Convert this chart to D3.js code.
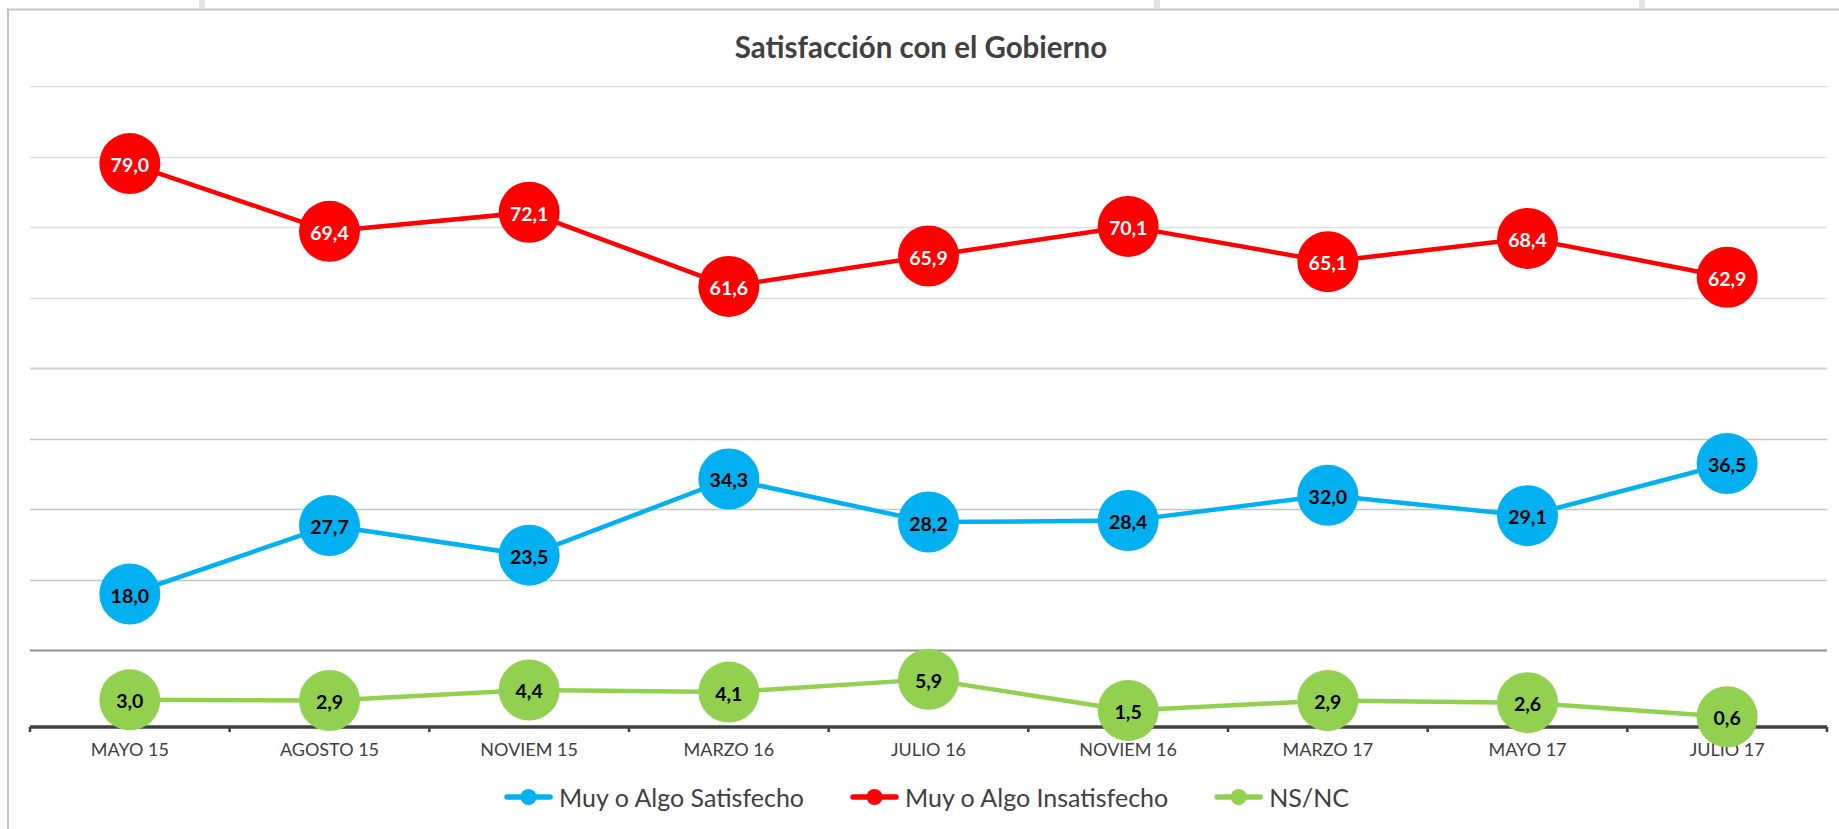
<!DOCTYPE html>
<html>
<head>
<meta charset="utf-8">
<script src="https://cdn.jsdelivr.net/npm/d3@7"></script>
<style>
  body { margin: 0; background: #fff; }
  svg { display: block; font-family: Lato, "Open Sans", sans-serif; }
</style>
</head>
<body>
<div id="chart"></div>
<script>
// chart data
const categories = ["MAYO 15", "AGOSTO 15", "NOVIEM 15", "MARZO 16", "JULIO 16", "NOVIEM 16", "MARZO 17", "MAYO 17", "JULIO 17"];
const satisfecho = [18.0, 27.7, 23.5, 34.3, 28.2, 28.4, 32.0, 29.1, 36.5];
const insatisfecho = [79.0, 69.4, 72.1, 61.6, 65.9, 70.1, 65.1, 68.4, 62.9];
const nsnc = [3.0, 2.9, 4.4, 4.1, 5.9, 1.5, 2.9, 2.6, 0.6];
const seriesNames = ["Muy o Algo Satisfecho", "Muy o Algo Insatisfecho", "NS/NC"];
const gridValues = [10, 20, 30, 40, 50, 60, 70, 80, 90];
const yDomain = [-0.85, 90];
const title = "Satisfacción con el Gobierno";

document.addEventListener('DOMContentLoaded', function () {
    const width = 1839,
        height = 829,
        left = 30,
        right = 1827,
        top = 86,
        bottom = 727,
        radius = 30.5;

    const svg = d3.select("#chart")
                  .append("svg")
                  .attr("width", width)
                  .attr("height", height);

    // spreadsheet strip above the chart frame
    [202, 1157, 1642].forEach(x => {
        svg.append("rect").attr("x", x - 3).attr("y", 0).attr("width", 6).attr("height", 8).attr("fill", "#e4e4e4");
    });

    // chart frame (top + left visible)
    svg.append("line").attr("x1", 7).attr("x2", width).attr("y1", 9.5).attr("y2", 9.5)
       .attr("stroke", "#c6c6c6").attr("stroke-width", 2);
    svg.append("line").attr("x1", 8).attr("x2", 8).attr("y1", 9).attr("y2", height)
       .attr("stroke", "#c6c6c6").attr("stroke-width", 2);

    const x = d3.scaleBand()
                .domain(categories)
                .range([left, right]);

    const y = d3.scaleLinear()
                .domain(yDomain)
                .range([bottom, top]);

    const cx = d => x(d) + x.bandwidth() / 2;

    // gridlines
    svg.append("g")
       .selectAll("line")
       .data(gridValues)
       .enter()
       .append("line")
       .attr("x1", left)
       .attr("x2", right)
       .attr("y1", d => Math.round(y(d)) + 0.5)
       .attr("y2", d => Math.round(y(d)) + 0.5)
       .attr("stroke", d => d === 10 ? "#8f8f8f" : d === 50 ? "#cfcfcf" : d < 50 ? "#c4c4c4" : "#dedede")
       .attr("stroke-width", d => (d === 10 || d === 50) ? 2 : 1.3);

    // x axis
    const axis = svg.append("g")
                    .attr("transform", "translate(0," + bottom + ")")
                    .call(d3.axisBottom(x).tickSize(0).tickPadding(16));
    axis.select(".domain").remove();
    axis.selectAll("text")
        .attr("fill", "#404040")
        .style("font-size", "18px")
        .style("font-family", "Lato, 'Open Sans', sans-serif");

    svg.append("line")
       .attr("x1", left).attr("x2", right)
       .attr("y1", bottom).attr("y2", bottom)
       .attr("stroke", "#404040").attr("stroke-width", 3.5);

    svg.append("g")
       .selectAll("line")
       .data(d3.range(categories.length + 1))
       .enter()
       .append("line")
       .attr("x1", i => left + i * x.step())
       .attr("x2", i => left + i * x.step())
       .attr("y1", bottom)
       .attr("y2", bottom + 5)
       .attr("stroke", "#404040")
       .attr("stroke-width", 2.5);

    const fmt = v => d3.format(".1f")(v).replace(".", ",");

    const series = [
        { name: seriesNames[0], values: satisfecho, color: "#00b0f0", text: "#000" },
        { name: seriesNames[1], values: insatisfecho, color: "#ff0000", text: "#fff" },
        { name: seriesNames[2], values: nsnc, color: "#92d050", text: "#000" }
    ];

    const line = d3.line()
                   .x((d, i) => cx(categories[i]))
                   .y(d => y(d));

    series.forEach(s => {
        const g = svg.append("g");
        g.append("path")
         .datum(s.values)
         .attr("d", line)
         .attr("fill", "none")
         .attr("stroke", s.color)
         .attr("stroke-width", 4.5)
         .attr("stroke-linejoin", "round");
        g.selectAll("circle")
         .data(s.values)
         .enter()
         .append("circle")
         .attr("cx", (d, i) => cx(categories[i]))
         .attr("cy", d => y(d))
         .attr("r", radius)
         .attr("fill", s.color);
    });

    // data labels on top of everything
    series.forEach(s => {
        svg.append("g")
           .selectAll("text")
           .data(s.values)
           .enter()
           .append("text")
           .attr("x", (d, i) => cx(categories[i]))
           .attr("y", d => y(d) + 1)
           .attr("text-anchor", "middle")
           .attr("dominant-baseline", "central")
           .attr("fill", s.text)
           .style("font-size", "19.5px")
           .style("font-weight", "bold")
           .text(d => fmt(d));
    });

    // title
    svg.append("text")
       .attr("x", 921)
       .attr("y", 46)
       .attr("text-anchor", "middle")
       .attr("dominant-baseline", "central")
       .attr("fill", "#404040")
       .style("font-size", "29.5px")
       .style("font-weight", "bold")
       .text(title);

    // legend
    const legend = svg.append("g");
    const legendY = 797;
    let pos = 0;
    series.forEach((s, i) => {
        const item = legend.append("g").attr("transform", "translate(" + pos + ",0)");
        item.append("line")
            .attr("x1", 0).attr("x2", 43)
            .attr("y1", legendY).attr("y2", legendY)
            .attr("stroke", s.color).attr("stroke-width", 5.5)
            .attr("stroke-linecap", "round");
        item.append("circle")
            .attr("cx", 21.5).attr("cy", legendY).attr("r", 8)
            .attr("fill", s.color);
        const t = item.append("text")
            .attr("x", 52)
            .attr("y", legendY)
            .attr("dominant-baseline", "central")
            .attr("fill", "#404040")
            .style("font-size", "25px")
            .text(s.name);
        pos += 52 + t.node().getComputedTextLength() + 49;
    });
    const legendWidth = pos - 49;
    legend.attr("transform", "translate(" + (928 - legendWidth / 2) + ",0)");
});
</script>
</body>
</html>
